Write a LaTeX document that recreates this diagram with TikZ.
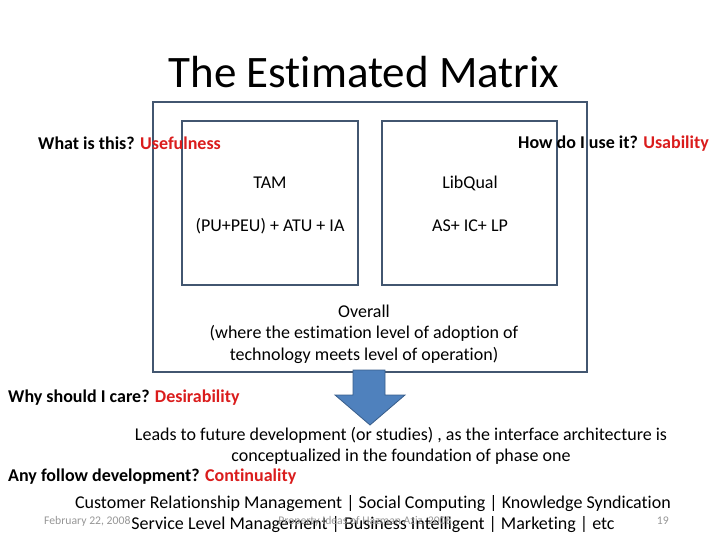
\documentclass[tikz,border=0pt]{standalone}
\usepackage{fontspec}
\setmainfont{Carlito}[Ligatures=NoCommon]
\usetikzlibrary{positioning}
\definecolor{marco}{RGB}{66,86,112}
\definecolor{rojo}{RGB}{218,28,28}
\definecolor{azul}{RGB}{79,129,189}
\definecolor{azulosc}{RGB}{56,93,138}
\definecolor{gris}{RGB}{150,150,150}
\begin{document}
\begin{tikzpicture}[x=1pt,y=-1pt,
  caja/.style={draw=marco,line width=1.8pt,inner sep=0pt},
  txt/.style={font=\fontsize{18}{21.5}\selectfont,inner sep=0pt,align=center},
  preg/.style={font=\bfseries\fontsize{18}{21.5}\selectfont,inner sep=0pt},
  pie/.style={font=\fontsize{11.7}{13}\selectfont,text=gris,inner sep=0pt}]
\useasboundingbox (0,0) rectangle (728,546);
\node[font=\fontsize{45}{48}\selectfont,inner sep=0pt] (titulo) at (364,72) {The Estimated Matrix};
% cuadros
\node[caja,minimum width=434pt,minimum height=270pt] (general) at (370,237) {};
\node[caja,minimum width=176pt,minimum height=164pt] (tam) at (270,203) {};
\node[caja,minimum width=175pt,minimum height=164pt] (libqual) at (469.5,203) {};
\node[txt] (tamt) at (270,183) {TAM};
\node[txt] (tamf) at (270,226) {(PU+PEU) + ATU + IA};
\node[txt] (libt) at (470,183) {LibQual};
\node[txt] (libf) at (470,226) {AS+ IC+ LP};
\node[txt] (overall) at (364,334) {Overall\\(where the estimation level of adoption of\\technology meets level of operation)};
% flecha
\filldraw[fill=azul,draw=azulosc,line width=0.8pt] (353,370) -- (385,370) -- (385,395) -- (405,395) -- (370,425) -- (335,395) -- (353,395) -- cycle;
% preguntas
\node[preg,anchor=west] (q1) at (38,143) {What is this? \textcolor{rojo}{Usefulness}};
\node[preg,anchor=east] (q2) at (709,144) {How do I use it? \textcolor{rojo}{Usability}};
\node[preg,anchor=west] (q3) at (8,398) {Why should I care? \textcolor{rojo}{Desirability}};
\node[preg,anchor=west] (q4) at (8,477) {Any follow development? \textcolor{rojo}{Continuality}};
\node[txt] (leads) at (401,446) {Leads to future development (or studies) , as the interface architecture is\\conceptualized in the foundation of phase one};
\node[txt] (areas) at (373,514) {Customer Relationship Management | Social Computing | Knowledge Syndication\\Service Level Management | Business Intelligent | Marketing | etc};
% pie de pagina
\node[pie,anchor=west] (fecha) at (44,521) {February 22, 2008};
\node[pie] (prop) at (365,521) {Property Ideas of Hazman Aziz, 2008};
\node[pie,anchor=east] (num) at (669,521) {19};
\end{tikzpicture}
\end{document}
